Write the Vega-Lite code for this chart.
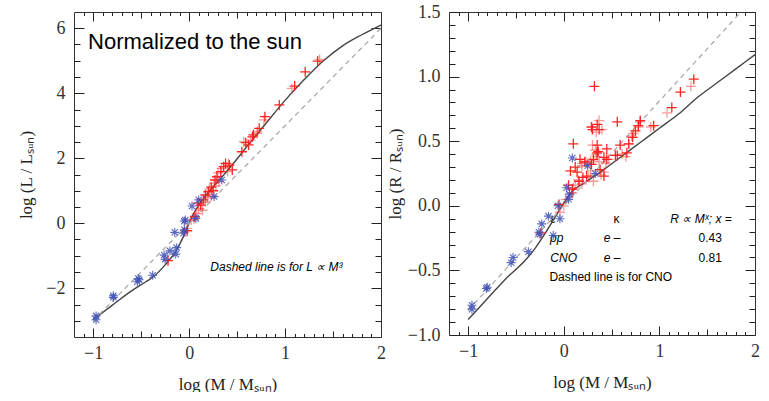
{
  "$schema": "https://vega.github.io/schema/vega-lite/v6.json",
  "padding": {"left": 17, "top": 3, "right": 5, "bottom": 0},
  "spacing": 0,
  "config": {"view": {"stroke": null}, "axis": {"grid": false, "domainColor": "#333", "tickColor": "#222", "tickWidth": 1, "tickOpacity": 1, "labelOverlap": false, "labelFlush": false, "labelBound": false}},
  "datasets": {
    "leftText1": [{"label": "Normalized to the sun", "x": -1.054, "y": 5.58}],
    "leftText2": [{"label": "Dashed line is for  L  ∝ M³", "x": 0.221, "y": -1.337}],
    "rightTextN": [
      {"label": "κ", "x": 0.52, "y": -0.102},
      {"label": "0.43", "x": 1.41, "y": -0.252},
      {"label": "0.81", "x": 1.41, "y": -0.406},
      {"label": "Dashed line is for CNO", "x": -0.15, "y": -0.553}
    ],
    "rightTextI": [
      {"label": "ε", "x": -0.14, "y": -0.102},
      {"label": "R ∝ Mˣ; x =", "x": 1.115, "y": -0.102},
      {"label": "pp", "x": -0.143, "y": -0.252},
      {"label": "e –", "x": 0.418, "y": -0.252},
      {"label": "CNO", "x": -0.14, "y": -0.406},
      {"label": "e –", "x": 0.418, "y": -0.406}
    ],
    "leftCurve": [
      {"x": -1, "y": -2.97}, {"x": -0.8, "y": -2.52}, {"x": -0.6, "y": -2.08}, {"x": -0.45, "y": -1.8}, {"x": -0.37, "y": -1.64}, {"x": -0.25, "y": -1.28}, {"x": -0.13, "y": -0.82}, {"x": -0.05, "y": -0.35}, {"x": 0.03, "y": 0.2}, {"x": 0.1, "y": 0.55}, {"x": 0.2, "y": 0.95}, {"x": 0.33, "y": 1.38}, {"x": 0.45, "y": 1.8}, {"x": 0.6, "y": 2.35}, {"x": 0.8, "y": 3.07}, {"x": 1.0, "y": 3.78}, {"x": 1.2, "y": 4.42}, {"x": 1.4, "y": 5.0}, {"x": 1.6, "y": 5.46}, {"x": 1.8, "y": 5.8}, {"x": 2.0, "y": 6.1}
    ],
    "leftDash": [{"x": -1, "y": -3}, {"x": 2, "y": 6}],
    "rightCurve": [
      {"x": -1, "y": -0.88}, {"x": -0.8, "y": -0.72}, {"x": -0.6, "y": -0.56}, {"x": -0.4, "y": -0.42}, {"x": -0.3, "y": -0.33}, {"x": -0.2, "y": -0.22}, {"x": -0.1, "y": -0.1}, {"x": 0, "y": 0.02}, {"x": 0.1, "y": 0.12}, {"x": 0.2, "y": 0.17}, {"x": 0.4, "y": 0.27}, {"x": 0.6, "y": 0.38}, {"x": 0.8, "y": 0.49}, {"x": 1.0, "y": 0.6}, {"x": 1.2, "y": 0.71}, {"x": 1.4, "y": 0.84}, {"x": 1.6, "y": 0.95}, {"x": 1.8, "y": 1.06}, {"x": 2.0, "y": 1.17}
    ],
    "rightDash": [{"x": -1, "y": -0.81}, {"x": 1.852, "y": 1.5}],
    "leftRed": [
      {"x": -0.22, "y": -1.15}, {"x": -0.02, "y": -0.23}, {"x": 0.06, "y": 0.2}, {"x": 0.12, "y": 0.56}, {"x": 0.17, "y": 0.87}, {"x": 0.23, "y": 1.11}, {"x": 0.27, "y": 1.33}, {"x": 0.33, "y": 1.59}, {"x": 0.38, "y": 1.84}, {"x": 0.42, "y": 1.79}, {"x": 0.55, "y": 2.2}, {"x": 0.59, "y": 2.48}, {"x": 0.66, "y": 2.66}, {"x": 1.34, "y": 4.99}, {"x": 1.21, "y": 4.66}, {"x": 1.1, "y": 4.22}, {"x": 0.94, "y": 3.64}, {"x": 0.79, "y": 3.28}, {"x": 0.73, "y": 2.92}, {"x": 0.67, "y": 2.72}, {"x": 0.62, "y": 2.41}, {"x": 0.45, "y": 1.64}, {"x": 0.36, "y": 1.74}, {"x": 0.15, "y": 0.72}, {"x": 0.2, "y": 0.97}, {"x": 0.29, "y": 1.43}, {"x": 0.09, "y": 0.62}, {"x": 0.25, "y": 1.0}
    ],
    "leftRedLight": [
      {"x": -0.02, "y": -0.16}, {"x": 0.05, "y": 0.12}, {"x": 0.08, "y": 0.3}, {"x": 0.26, "y": 1.23}, {"x": 0.34, "y": 1.69}, {"x": 0.4, "y": 1.59}, {"x": 0.31, "y": 1.28}, {"x": 0.23, "y": 0.82}, {"x": 0.17, "y": 0.66}, {"x": 0.71, "y": 2.77}, {"x": 1.36, "y": 5.04}, {"x": 1.07, "y": 4.15}, {"x": 0.78, "y": 3.18}, {"x": 0.71, "y": 2.82}, {"x": 0.64, "y": 2.56}, {"x": 0.57, "y": 2.51}, {"x": 0.41, "y": 1.84}, {"x": 0.1, "y": 0.45}, {"x": 0.13, "y": 0.65}, {"x": 0.19, "y": 0.78}, {"x": 0.21, "y": 1.05}, {"x": 0.28, "y": 1.15}, {"x": 0.3, "y": 1.55}, {"x": 0.14, "y": 0.4}, {"x": 0.02, "y": 0.1}, {"x": -0.05, "y": -0.28}
    ],
    "leftBlue": [
      {"x": -0.97, "y": -2.85}, {"x": -0.97, "y": -2.97}, {"x": -0.79, "y": -2.23}, {"x": -0.79, "y": -2.28}, {"x": -0.53, "y": -1.7}, {"x": -0.54, "y": -1.8}, {"x": -0.52, "y": -1.74}, {"x": -0.38, "y": -1.6}, {"x": -0.26, "y": -0.98}, {"x": -0.25, "y": -1.11}, {"x": -0.2, "y": -0.85}, {"x": -0.13, "y": -0.75}, {"x": -0.14, "y": -0.95}, {"x": -0.15, "y": -0.28}, {"x": -0.05, "y": 0.06}, {"x": -0.06, "y": -0.31}, {"x": -0.05, "y": -0.2}, {"x": 0.03, "y": 0.53}, {"x": 0.07, "y": 0.15}, {"x": 0.1, "y": 0.72}, {"x": 0.26, "y": 0.82}, {"x": 0.34, "y": 1.33}, {"x": -0.04, "y": 0.1}
    ],
    "rightRed": [
      {"x": -0.05, "y": 0.01}, {"x": -0.24, "y": -0.21}, {"x": 0.09, "y": 0.13}, {"x": 0.32, "y": 0.925}, {"x": 1.36, "y": 0.98}, {"x": 1.22, "y": 0.88}, {"x": 1.13, "y": 0.76}, {"x": 0.94, "y": 0.62}, {"x": 0.8, "y": 0.66}, {"x": 0.75, "y": 0.58}, {"x": 0.72, "y": 0.53}, {"x": 0.56, "y": 0.65}, {"x": 0.59, "y": 0.47}, {"x": 0.66, "y": 0.41}, {"x": 0.56, "y": 0.39}, {"x": 0.45, "y": 0.36}, {"x": 0.42, "y": 0.23}, {"x": 0.35, "y": 0.63}, {"x": 0.29, "y": 0.61}, {"x": 0.37, "y": 0.59}, {"x": 0.35, "y": 0.47}, {"x": 0.35, "y": 0.41}, {"x": 0.1, "y": 0.48}, {"x": 0.17, "y": 0.36}, {"x": 0.22, "y": 0.34}, {"x": 0.29, "y": 0.32}, {"x": 0.07, "y": 0.27}, {"x": 0.14, "y": 0.26}, {"x": 0.16, "y": 0.19}, {"x": 0.24, "y": 0.23}, {"x": 0.38, "y": 0.28}, {"x": 0.3, "y": 0.59}, {"x": 0.45, "y": 0.44}, {"x": 0.36, "y": 0.42}, {"x": 0.12, "y": 0.3}, {"x": 0.05, "y": 0.16}, {"x": 0.2, "y": 0.22}, {"x": 0.31, "y": 0.36}, {"x": 0.42, "y": 0.375}, {"x": 0.54, "y": 0.39}, {"x": 0.68, "y": 0.48}, {"x": 0.78, "y": 0.62}
    ],
    "rightRedLight": [
      {"x": -0.04, "y": -0.05}, {"x": 0.12, "y": 0.16}, {"x": 0.15, "y": 0.2}, {"x": 1.33, "y": 0.925}, {"x": 1.08, "y": 0.72}, {"x": 0.91, "y": 0.61}, {"x": 0.78, "y": 0.61}, {"x": 0.73, "y": 0.56}, {"x": 0.68, "y": 0.48}, {"x": 0.65, "y": 0.38}, {"x": 0.44, "y": 0.33}, {"x": 0.34, "y": 0.57}, {"x": 0.35, "y": 0.38}, {"x": 0.3, "y": 0.47}, {"x": 0.19, "y": 0.33}, {"x": 0.25, "y": 0.33}, {"x": 0.19, "y": 0.31}, {"x": 0.39, "y": 0.24}, {"x": 0.37, "y": 0.66}, {"x": 0.4, "y": 0.59}, {"x": 0.33, "y": 0.43}, {"x": 0.34, "y": 0.4}, {"x": 0.08, "y": 0.1}, {"x": 0.28, "y": 0.27}, {"x": 0.02, "y": 0.05}, {"x": 0.0, "y": 0.0}, {"x": 0.23, "y": 0.34}, {"x": 0.28, "y": 0.35}, {"x": 0.37, "y": 0.34}, {"x": 0.47, "y": 0.36}, {"x": 0.61, "y": 0.4}, {"x": 0.71, "y": 0.54}, {"x": 0.8, "y": 0.65}, {"x": 0.19, "y": 0.17}, {"x": 0.26, "y": 0.22}, {"x": 0.42, "y": 0.26}, {"x": 0.31, "y": 0.19}, {"x": 0.1, "y": 0.14}, {"x": 0.09, "y": 0.1}
    ],
    "rightBlue": [
      {"x": -0.96, "y": -0.77}, {"x": -0.96, "y": -0.8}, {"x": -0.8, "y": -0.63}, {"x": -0.81, "y": -0.64}, {"x": -0.55, "y": -0.44}, {"x": -0.53, "y": -0.4}, {"x": -0.37, "y": -0.355}, {"x": -0.26, "y": -0.205}, {"x": -0.25, "y": -0.22}, {"x": -0.23, "y": -0.14}, {"x": -0.16, "y": -0.08}, {"x": -0.11, "y": -0.23}, {"x": -0.06, "y": 0.0}, {"x": -0.04, "y": -0.1}, {"x": 0.03, "y": 0.14}, {"x": 0.06, "y": 0.09}, {"x": 0.05, "y": 0.05}, {"x": 0.09, "y": 0.37}, {"x": 0.25, "y": 0.31}, {"x": 0.33, "y": 0.25}
    ]
  },
  "hconcat": [
    {
      "width": 307, "height": 325,
      "resolve": {"axis": {"x": "independent", "y": "independent"}},
      "layer": [
        {
          "data": {"name": "leftText1"},
          "mark": {"type": "text", "align": "left", "baseline": "middle", "font": "Liberation Sans", "fontSize": 22, "color": "#000"},
          "encoding": {
            "x": {"field": "x", "type": "quantitative", "scale": {"domain": [-1.2, 2], "nice": false, "zero": false},
              "axis": {"orient": "bottom", "values": [-1, 0, 1, 2], "format": "d", "ticks": false, "domain": true, "labelFont": "Liberation Serif", "labelFontSize": 18, "labelColor": "#333", "labelPadding": 7, "title": "log (M / Mₛᵤₙ)", "titleFont": "Liberation Serif", "titleFontSize": 17, "titleFontWeight": "normal", "titleColor": "#222", "titlePadding": 14}},
            "y": {"field": "y", "type": "quantitative", "scale": {"domain": [-3.5, 6.5], "nice": false, "zero": false},
              "axis": {"orient": "left", "values": [-2, 0, 2, 4, 6], "format": "d", "ticks": false, "domain": true, "labelFont": "Liberation Serif", "labelFontSize": 18, "labelColor": "#333", "labelPadding": 9, "title": "log (L / Lₛᵤₙ)", "titleFont": "Liberation Serif", "titleFontSize": 17, "titleFontWeight": "normal", "titleColor": "#222", "titlePadding": 10}},
            "text": {"field": "label"}
          }
        },
        {
          "data": {"name": "leftText2"},
          "mark": {"type": "text", "align": "left", "baseline": "middle", "font": "Liberation Sans", "fontSize": 12, "fontStyle": "italic", "color": "#000"},
          "encoding": {
            "x": {"field": "x", "type": "quantitative", "scale": {"domain": [-1.2, 2], "nice": false, "zero": false},
              "axis": {"orient": "bottom", "values": [-1, 0, 1, 2], "labels": false, "domain": false, "tickSize": 9, "offset": -9, "title": null}},
            "y": {"field": "y", "type": "quantitative", "scale": {"domain": [-3.5, 6.5], "nice": false, "zero": false},
              "axis": {"orient": "left", "values": [-2, 0, 2, 4, 6], "labels": false, "domain": false, "tickSize": 10, "offset": -10, "title": null}},
            "text": {"field": "label"}
          }
        },
        {
          "data": {"name": "leftCurve"},
          "mark": {"type": "line", "color": "#444", "strokeWidth": 1.4, "interpolate": "monotone"},
          "encoding": {
            "x": {"field": "x", "type": "quantitative", "scale": {"domain": [-1.2, 2], "nice": false, "zero": false},
              "axis": {"orient": "bottom", "values": [-0.5, 0.5, 1.5], "labels": false, "domain": false, "tickSize": 6, "offset": -6, "title": null}},
            "y": {"field": "y", "type": "quantitative", "scale": {"domain": [-3.5, 6.5], "nice": false, "zero": false},
              "axis": {"orient": "left", "values": [-3, -2.5, -1.5, -1, -0.5, 0.5, 1, 1.5, 2.5, 3, 3.5, 4.5, 5, 5.5], "labels": false, "domain": false, "tickSize": 6, "offset": -6, "title": null}}
          }
        },
        {
          "data": {"name": "leftDash"},
          "mark": {"type": "line", "color": "#aaa", "strokeWidth": 1.3, "strokeDash": [5, 4]},
          "encoding": {
            "x": {"field": "x", "type": "quantitative", "scale": {"domain": [-1.2, 2], "nice": false, "zero": false},
              "axis": {"orient": "bottom", "values": [-1.1, -0.9, -0.8, -0.7, -0.6, -0.4, -0.3, -0.2, -0.1, 0.1, 0.2, 0.3, 0.4, 0.6, 0.7, 0.8, 0.9, 1.1, 1.2, 1.3, 1.4, 1.6, 1.7, 1.8, 1.9], "labels": false, "domain": false, "tickSize": 3.5, "offset": -3.5, "title": null}},
            "y": {"field": "y", "type": "quantitative", "scale": {"domain": [-3.5, 6.5], "nice": false, "zero": false},
              "axis": {"orient": "right", "values": [-2, 0, 2, 4, 6], "labels": false, "domain": false, "tickSize": 10, "offset": -10, "title": null}}
          }
        },
        {
          "data": {"name": "leftRedLight"},
          "mark": {"type": "point", "shape": "M-1,0L1,0M0,-1L0,1", "size": 100, "filled": false, "color": "#ff2020", "strokeWidth": 1.3, "opacity": 0.45},
          "encoding": {
            "x": {"field": "x", "type": "quantitative", "scale": {"domain": [-1.2, 2], "nice": false, "zero": false},
              "axis": {"orient": "top", "values": [-1, 0, 1, 2], "labels": false, "domain": false, "tickSize": 9, "offset": -9, "title": null}},
            "y": {"field": "y", "type": "quantitative", "scale": {"domain": [-3.5, 6.5], "nice": false, "zero": false},
              "axis": {"orient": "right", "values": [-3, -2.5, -1.5, -1, -0.5, 0.5, 1, 1.5, 2.5, 3, 3.5, 4.5, 5, 5.5], "labels": false, "domain": false, "tickSize": 6, "offset": -6, "title": null}}
          }
        },
        {
          "data": {"name": "leftRed"},
          "mark": {"type": "point", "shape": "M-1,0L1,0M0,-1L0,1", "size": 100, "filled": false, "color": "#ff1a1a", "strokeWidth": 1.3, "opacity": 0.95},
          "encoding": {
            "x": {"field": "x", "type": "quantitative", "scale": {"domain": [-1.2, 2], "nice": false, "zero": false},
              "axis": {"orient": "top", "values": [-0.5, 0.5, 1.5], "labels": false, "domain": false, "tickSize": 6, "offset": -6, "title": null}},
            "y": {"field": "y", "type": "quantitative", "scale": {"domain": [-3.5, 6.5], "nice": false, "zero": false},
              "axis": {"orient": "right", "values": [-2, 0, 2, 4, 6], "labels": false, "domain": true, "ticks": false, "title": null}}
          }
        },
        {
          "data": {"name": "leftBlue"},
          "mark": {"type": "point", "shape": "M-1,0L1,0M0,-1L0,1M-0.7,-0.7L0.7,0.7M-0.7,0.7L0.7,-0.7", "size": 80, "filled": false, "color": "#3f51b5", "strokeWidth": 1.1, "opacity": 0.85},
          "encoding": {
            "x": {"field": "x", "type": "quantitative", "scale": {"domain": [-1.2, 2], "nice": false, "zero": false},
              "axis": {"orient": "top", "values": [-1.1, -0.9, -0.8, -0.7, -0.6, -0.4, -0.3, -0.2, -0.1, 0.1, 0.2, 0.3, 0.4, 0.6, 0.7, 0.8, 0.9, 1.1, 1.2, 1.3, 1.4, 1.6, 1.7, 1.8, 1.9], "labels": false, "domain": false, "tickSize": 3.5, "offset": -3.5, "title": null}},
            "y": {"field": "y", "type": "quantitative", "scale": {"domain": [-3.5, 6.5], "nice": false, "zero": false}, "axis": null}
          }
        },
        {
          "data": {"name": "leftDash"},
          "mark": {"type": "line", "opacity": 0},
          "encoding": {
            "x": {"field": "x", "type": "quantitative", "scale": {"domain": [-1.2, 2], "nice": false, "zero": false},
              "axis": {"orient": "top", "values": [-1.2, 2], "labels": false, "domain": true, "ticks": false, "title": null}},
            "y": {"field": "y", "type": "quantitative", "scale": {"domain": [-3.5, 6.5], "nice": false, "zero": false}, "axis": null}
          }
        }
      ]
    },
    {
      "width": 306, "height": 323,
      "resolve": {"axis": {"x": "independent", "y": "independent"}},
      "layer": [
        {
          "data": {"name": "rightTextN"},
          "mark": {"type": "text", "align": "left", "baseline": "middle", "font": "Liberation Sans", "fontSize": 12, "color": "#000"},
          "encoding": {
            "x": {"field": "x", "type": "quantitative", "scale": {"domain": [-1.2, 2], "nice": false, "zero": false},
              "axis": {"orient": "bottom", "values": [-1, 0, 1, 2], "format": "d", "ticks": false, "domain": true, "labelFont": "Liberation Serif", "labelFontSize": 18, "labelColor": "#333", "labelPadding": 7, "title": "log (M / Mₛᵤₙ)", "titleFont": "Liberation Serif", "titleFontSize": 17, "titleFontWeight": "normal", "titleColor": "#222", "titlePadding": 14}},
            "y": {"field": "y", "type": "quantitative", "scale": {"domain": [-1, 1.5], "nice": false, "zero": false},
              "axis": {"orient": "left", "values": [-1, -0.5, 0, 0.5, 1, 1.5], "format": ".1f", "ticks": false, "domain": true, "labelFont": "Liberation Serif", "labelFontSize": 18, "labelColor": "#333", "labelPadding": 9, "title": "log (R / Rₛᵤₙ)", "titleFont": "Liberation Serif", "titleFontSize": 17, "titleFontWeight": "normal", "titleColor": "#222", "titlePadding": 3}},
            "text": {"field": "label"}
          }
        },
        {
          "data": {"name": "rightTextI"},
          "mark": {"type": "text", "align": "left", "baseline": "middle", "font": "Liberation Sans", "fontSize": 12, "fontStyle": "italic", "color": "#000"},
          "encoding": {
            "x": {"field": "x", "type": "quantitative", "scale": {"domain": [-1.2, 2], "nice": false, "zero": false},
              "axis": {"orient": "bottom", "values": [-1, 0, 1, 2], "labels": false, "domain": false, "tickSize": 9, "offset": -9, "title": null}},
            "y": {"field": "y", "type": "quantitative", "scale": {"domain": [-1, 1.5], "nice": false, "zero": false},
              "axis": {"orient": "left", "values": [-1, -0.5, 0, 0.5, 1, 1.5], "labels": false, "domain": false, "tickSize": 10, "offset": -10, "title": null}},
            "text": {"field": "label"}
          }
        },
        {
          "data": {"name": "rightCurve"},
          "mark": {"type": "line", "color": "#444", "strokeWidth": 1.4, "interpolate": "monotone"},
          "encoding": {
            "x": {"field": "x", "type": "quantitative", "scale": {"domain": [-1.2, 2], "nice": false, "zero": false},
              "axis": {"orient": "bottom", "values": [-0.5, 0.5, 1.5], "labels": false, "domain": false, "tickSize": 6, "offset": -6, "title": null}},
            "y": {"field": "y", "type": "quantitative", "scale": {"domain": [-1, 1.5], "nice": false, "zero": false},
              "axis": {"orient": "left", "values": [-0.9, -0.8, -0.7, -0.6, -0.4, -0.3, -0.2, -0.1, 0.1, 0.2, 0.3, 0.4, 0.6, 0.7, 0.8, 0.9, 1.1, 1.2, 1.3, 1.4], "labels": false, "domain": false, "tickSize": 6, "offset": -6, "title": null}}
          }
        },
        {
          "data": {"name": "rightDash"},
          "mark": {"type": "line", "color": "#aaa", "strokeWidth": 1.3, "strokeDash": [5, 4]},
          "encoding": {
            "x": {"field": "x", "type": "quantitative", "scale": {"domain": [-1.2, 2], "nice": false, "zero": false},
              "axis": {"orient": "bottom", "values": [-1.1, -0.9, -0.8, -0.7, -0.6, -0.4, -0.3, -0.2, -0.1, 0.1, 0.2, 0.3, 0.4, 0.6, 0.7, 0.8, 0.9, 1.1, 1.2, 1.3, 1.4, 1.6, 1.7, 1.8, 1.9], "labels": false, "domain": false, "tickSize": 3.5, "offset": -3.5, "title": null}},
            "y": {"field": "y", "type": "quantitative", "scale": {"domain": [-1, 1.5], "nice": false, "zero": false},
              "axis": {"orient": "right", "values": [-1, -0.5, 0, 0.5, 1, 1.5], "labels": false, "domain": false, "tickSize": 10, "offset": -10, "title": null}}
          }
        },
        {
          "data": {"name": "rightRedLight"},
          "mark": {"type": "point", "shape": "M-1,0L1,0M0,-1L0,1", "size": 100, "filled": false, "color": "#ff2020", "strokeWidth": 1.3, "opacity": 0.45},
          "encoding": {
            "x": {"field": "x", "type": "quantitative", "scale": {"domain": [-1.2, 2], "nice": false, "zero": false},
              "axis": {"orient": "top", "values": [-1, 0, 1, 2], "labels": false, "domain": false, "tickSize": 9, "offset": -9, "title": null}},
            "y": {"field": "y", "type": "quantitative", "scale": {"domain": [-1, 1.5], "nice": false, "zero": false},
              "axis": {"orient": "right", "values": [-0.9, -0.8, -0.7, -0.6, -0.4, -0.3, -0.2, -0.1, 0.1, 0.2, 0.3, 0.4, 0.6, 0.7, 0.8, 0.9, 1.1, 1.2, 1.3, 1.4], "labels": false, "domain": false, "tickSize": 6, "offset": -6, "title": null}}
          }
        },
        {
          "data": {"name": "rightRed"},
          "mark": {"type": "point", "shape": "M-1,0L1,0M0,-1L0,1", "size": 100, "filled": false, "color": "#ff1a1a", "strokeWidth": 1.3, "opacity": 0.95},
          "encoding": {
            "x": {"field": "x", "type": "quantitative", "scale": {"domain": [-1.2, 2], "nice": false, "zero": false},
              "axis": {"orient": "top", "values": [-0.5, 0.5, 1.5], "labels": false, "domain": false, "tickSize": 6, "offset": -6, "title": null}},
            "y": {"field": "y", "type": "quantitative", "scale": {"domain": [-1, 1.5], "nice": false, "zero": false},
              "axis": {"orient": "right", "values": [-1, 1.5], "labels": false, "domain": true, "ticks": false, "title": null}}
          }
        },
        {
          "data": {"name": "rightBlue"},
          "mark": {"type": "point", "shape": "M-1,0L1,0M0,-1L0,1M-0.7,-0.7L0.7,0.7M-0.7,0.7L0.7,-0.7", "size": 80, "filled": false, "color": "#3f51b5", "strokeWidth": 1.1, "opacity": 0.85},
          "encoding": {
            "x": {"field": "x", "type": "quantitative", "scale": {"domain": [-1.2, 2], "nice": false, "zero": false},
              "axis": {"orient": "top", "values": [-1.1, -0.9, -0.8, -0.7, -0.6, -0.4, -0.3, -0.2, -0.1, 0.1, 0.2, 0.3, 0.4, 0.6, 0.7, 0.8, 0.9, 1.1, 1.2, 1.3, 1.4, 1.6, 1.7, 1.8, 1.9], "labels": false, "domain": false, "tickSize": 3.5, "offset": -3.5, "title": null}},
            "y": {"field": "y", "type": "quantitative", "scale": {"domain": [-1, 1.5], "nice": false, "zero": false}, "axis": null}
          }
        },
        {
          "data": {"name": "rightDash"},
          "mark": {"type": "line", "opacity": 0},
          "encoding": {
            "x": {"field": "x", "type": "quantitative", "scale": {"domain": [-1.2, 2], "nice": false, "zero": false},
              "axis": {"orient": "top", "values": [-1.2, 2], "labels": false, "domain": true, "ticks": false, "title": null}},
            "y": {"field": "y", "type": "quantitative", "scale": {"domain": [-1, 1.5], "nice": false, "zero": false}, "axis": null}
          }
        }
      ]
    }
  ]
}
